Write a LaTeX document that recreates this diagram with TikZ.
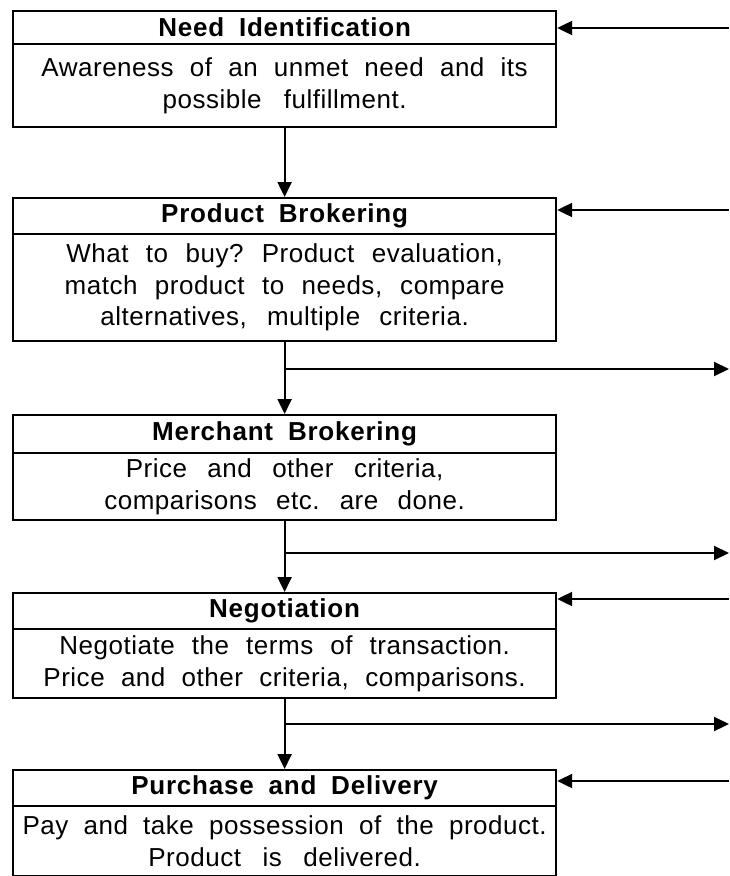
\documentclass[tikz,border=0pt]{standalone}
\usepackage{fontspec}
\setmainfont{Liberation Sans}[LetterSpace=2]
\usetikzlibrary{arrows.meta}

% wider gaps between words, as in the typeset stage labels
\newcommand{\widewordgaps}{\spaceskip=0.57em plus 0.1em minus 0.05em\relax
  \xspaceskip=0.6em plus 0.1em\relax}

\tikzset{
  hdr/.style={draw, line width=2.2pt, anchor=north west, minimum width=543pt,
    inner sep=0pt, font={\bfseries\fontsize{26}{30}\selectfont\addfontfeatures{LetterSpace=3}},
    execute at begin node=\widewordgaps},
  bodybox/.style={draw, line width=2.2pt, anchor=north west, minimum width=543pt,
    inner sep=0pt, text width=541pt, align=center,
    font={\fontsize{26}{31.5}\selectfont},
    execute at begin node=\widewordgaps},
  conn/.style={line width=2.2pt, -{Triangle[length=15pt,width=14pt]}},
}

\begin{document}
\begin{tikzpicture}[x=1pt, y=-1pt]
\useasboundingbox (0,0) rectangle (729,876);

% stage boxes: bold title strip over a description panel
\node[hdr, minimum height=33pt]  (h1) at (12,10)  {Need Identification};
\node[bodybox, minimum height=83pt] (b1) at (12,43)
  {Awareness of an unmet need and its\\ possible fulfillment.};

\node[hdr, minimum height=36pt]  (h2) at (12,197) {Product Brokering};
\node[bodybox, minimum height=107pt] (b2) at (12,233)
  {What to buy? Product evaluation,\\ match product to needs, compare\\ alternatives, multiple criteria.};

\node[hdr, minimum height=38pt]  (h3) at (12,414) {Merchant Brokering};
\node[bodybox, minimum height=67pt] (b3) at (12,452)
  {Price and other criteria,\\ comparisons etc. are done.};

\node[hdr, minimum height=36pt]  (h4) at (12,592) {Negotiation};
\node[bodybox, minimum height=69pt] (b4) at (12,628)
  {Negotiate the terms of transaction.\\ Price and other criteria, comparisons.};

\node[hdr, minimum height=36pt]  (h5) at (12,769) {Purchase and Delivery};
\node[bodybox, minimum height=70pt] (b5) at (12,805)
  {Pay and take possession of the product.\\ Product is delivered.};

% downward flow between stages
\draw[conn] (b1.south) -- (h2.north);
\draw[conn] (b2.south) -- (h3.north);
\draw[conn] (b3.south) -- (h4.north);
\draw[conn] (b4.south) -- (h5.north);

% branches leaving the flow to the right
\coordinate (j2) at (283.5,369);  \coordinate (o2) at (729,369);
\coordinate (j3) at (283.5,553);  \coordinate (o3) at (729,553);
\coordinate (j4) at (283.5,724);  \coordinate (o4) at (729,724);
\draw[conn] (j2) -- (o2);
\draw[conn] (j3) -- (o3);
\draw[conn] (j4) -- (o4);

% feedback arriving from the right
\coordinate (i1) at (729,28);
\coordinate (i2) at (729,210);
\coordinate (i4) at (729,599);
\coordinate (i5) at (729,781);
\draw[conn] (i1) -- (i1 -| h1.east);
\draw[conn] (i2) -- (i2 -| h2.east);
\draw[conn] (i4) -- (i4 -| h4.east);
\draw[conn] (i5) -- (i5 -| h5.east);
\end{tikzpicture}
\end{document}
